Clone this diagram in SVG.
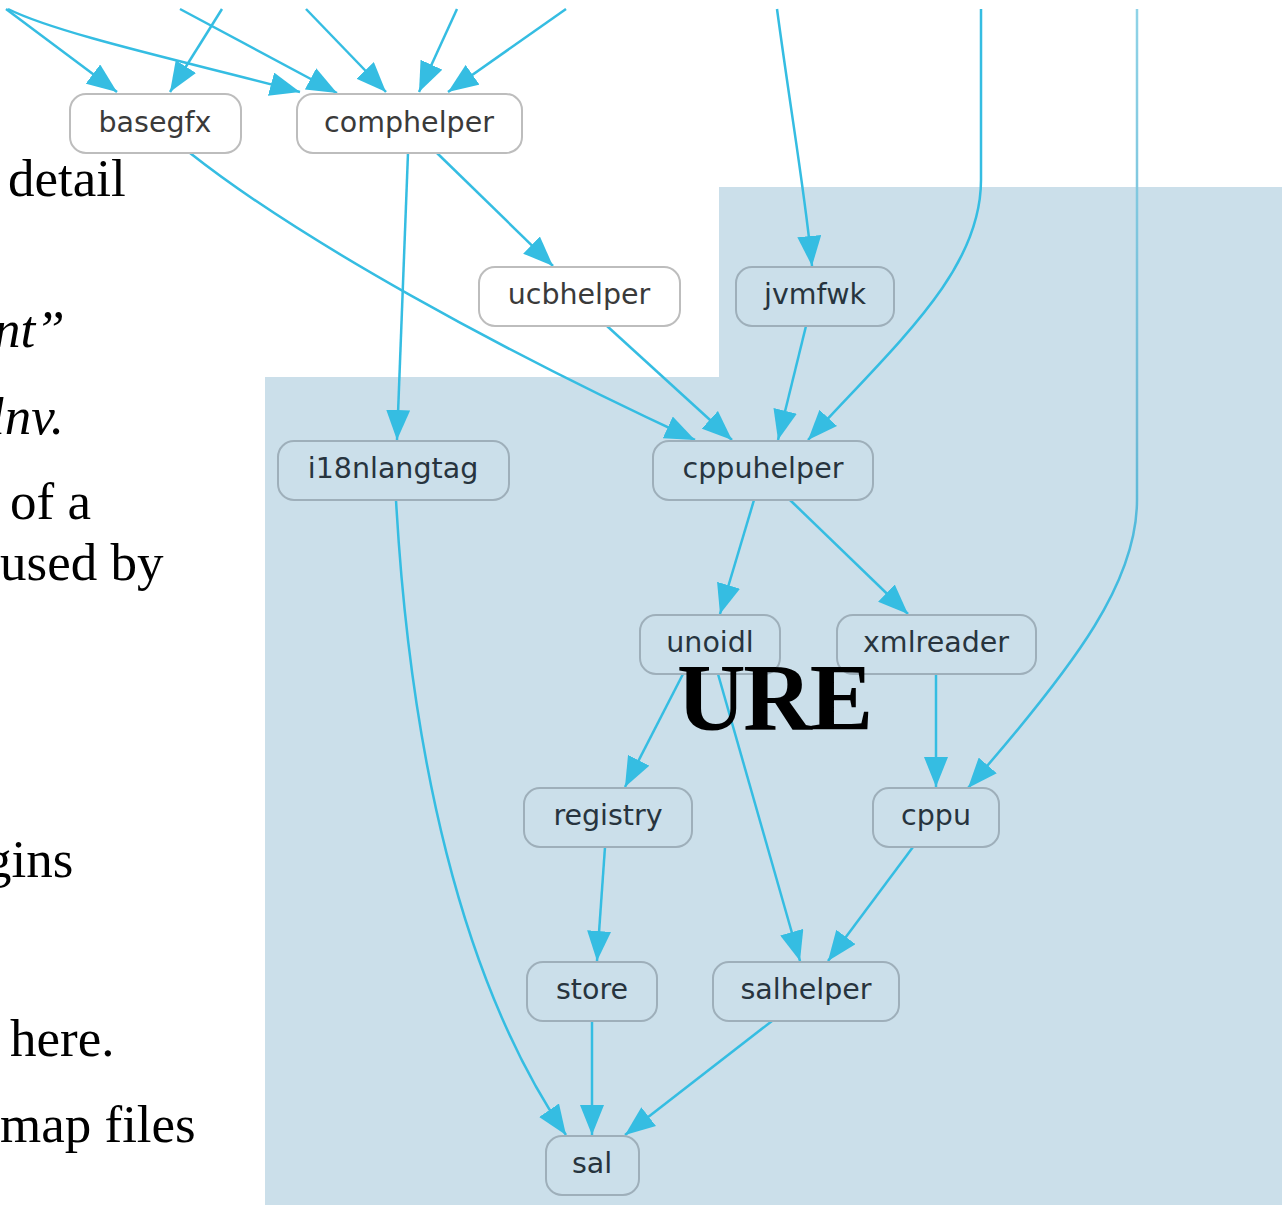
<svg xmlns="http://www.w3.org/2000/svg" width="1282" height="1205" viewBox="0 0 1282 1205">
  <defs>
    <marker id="arrow" markerUnits="userSpaceOnUse" markerWidth="30" markerHeight="24" refX="30" refY="12" orient="auto">
      <path d="M0,0 L30,12 L0,24 z" fill="#35bde2"/>
    </marker>
    <linearGradient id="fadeLine" gradientUnits="userSpaceOnUse" x1="0" y1="9" x2="0" y2="788">
      <stop offset="0" stop-color="#8fd3e7"/>
      <stop offset="0.55" stop-color="#6fbad6"/>
      <stop offset="0.75" stop-color="#3fbbe0"/>
      <stop offset="1" stop-color="#35bde2"/>
    </linearGradient>
    <style>
      .edge { fill: none; stroke: #35bde2; stroke-width: 2.5; marker-end: url(#arrow); }
      .box { stroke-width: 2; }
      .plain .box { fill: #ffffff; stroke: #bdbdbd; }
      .ure .box { fill: #cbdfea; stroke: #9eafba; }
      .label { font-family: "DejaVu Sans", Verdana, sans-serif; font-size: 28.5px; text-anchor: middle; }
      .plain .label { fill: #3a3a3a; }
      .ure .label { fill: #27343e; }
      .slide { font-family: "Liberation Serif", "Times New Roman", serif; font-size: 53px; fill: #000000; }
      .slide-it { font-style: italic; }
    </style>
  </defs>

  <rect x="0" y="0" width="1282" height="1205" fill="#ffffff"/>

  <!-- URE area -->
  <polygon points="265,377 719,377 719,187 1282,187 1282,1205 265,1205" fill="#cbdfea"/>

  <!-- slide body text, clipped at the left edge -->
  <g id="slide-text">
    <text class="slide" x="8" y="196">detail</text>
    <text class="slide slide-it" x="-6" y="347">nt”</text>
    <text class="slide slide-it" x="-10" y="434">lnv.</text>
    <text class="slide" x="10" y="519">of a</text>
    <text class="slide" x="0" y="580">used by</text>
    <text class="slide" x="-15" y="877">gins</text>
    <text class="slide" x="10" y="1056">here.</text>
    <text class="slide" x="0" y="1142">map files</text>
  </g>

  <!-- dependency edges -->
  <g id="connectors">
    <path class="edge" d="M6,9 L117,92"/>
    <path class="edge" d="M8,9 C60,35 200,65 300,92"/>
    <path class="edge" d="M222,9 L170,92"/>
    <path class="edge" d="M180,9 L337,93"/>
    <path class="edge" d="M306,9 L386,92"/>
    <path class="edge" d="M457,9 L419,92"/>
    <path class="edge" d="M566,9 L448,92"/>
    <path class="edge" d="M777,9 C792,120 806,200 812,266"/>
    <path class="edge" d="M981,9 L981,180 C981,270 900,340 808,440"/>
    <path class="edge" d="M1137,9 L1137,500 C1137,580 1080,660 968,788" style="stroke:url(#fadeLine)"/>
    <path class="edge" d="M190,153 C300,240 500,350 695,440"/>
    <path class="edge" d="M437,153 L553,266"/>
    <path class="edge" d="M408,153 L397,440"/>
    <path class="edge" d="M607,326 L732,440"/>
    <path class="edge" d="M806,326 L778,440"/>
    <path class="edge" d="M754,500 L720,614"/>
    <path class="edge" d="M790,500 L908,614"/>
    <path class="edge" d="M683,674 L625,787"/>
    <path class="edge" d="M718,674 L800,961"/>
    <path class="edge" d="M936,674 L936,787"/>
    <path class="edge" d="M605,847 L597,961"/>
    <path class="edge" d="M913,847 L828,961"/>
    <path class="edge" d="M592,1021 L592,1135"/>
    <path class="edge" d="M772,1021 L625,1135"/>
    <path class="edge" d="M396,500 C410,750 460,980 566,1135"/>
  </g>

  <!-- modules outside URE -->
  <g id="basegfx" class="plain">
    <rect class="box" x="70" y="94" width="171" height="59" rx="16"/>
    <text class="label" x="155" y="132">basegfx</text>
  </g>
  <g id="comphelper" class="plain">
    <rect class="box" x="297" y="94" width="225" height="59" rx="16"/>
    <text class="label" x="409" y="132">comphelper</text>
  </g>
  <g id="ucbhelper" class="plain">
    <rect class="box" x="479" y="267" width="201" height="59" rx="16"/>
    <text class="label" x="579" y="304">ucbhelper</text>
  </g>

  <!-- URE modules -->
  <g id="jvmfwk" class="ure">
    <rect class="box" x="736" y="267" width="158" height="59" rx="16"/>
    <text class="label" x="815" y="304">jvmfwk</text>
  </g>
  <g id="i18nlangtag" class="ure">
    <rect class="box" x="278" y="441" width="231" height="59" rx="16"/>
    <text class="label" x="393" y="478">i18nlangtag</text>
  </g>
  <g id="cppuhelper" class="ure">
    <rect class="box" x="653" y="441" width="220" height="59" rx="16"/>
    <text class="label" x="763" y="478">cppuhelper</text>
  </g>
  <g id="unoidl" class="ure">
    <rect class="box" x="640" y="615" width="140" height="59" rx="16"/>
    <text class="label" x="710" y="652">unoidl</text>
  </g>
  <g id="xmlreader" class="ure">
    <rect class="box" x="837" y="615" width="199" height="59" rx="16"/>
    <text class="label" x="936" y="652">xmlreader</text>
  </g>
  <g id="registry" class="ure">
    <rect class="box" x="524" y="788" width="168" height="59" rx="16"/>
    <text class="label" x="608" y="825">registry</text>
  </g>
  <g id="cppu" class="ure">
    <rect class="box" x="873" y="788" width="126" height="59" rx="16"/>
    <text class="label" x="936" y="825">cppu</text>
  </g>
  <g id="store" class="ure">
    <rect class="box" x="527" y="962" width="130" height="59" rx="16"/>
    <text class="label" x="592" y="999">store</text>
  </g>
  <g id="salhelper" class="ure">
    <rect class="box" x="713" y="962" width="186" height="59" rx="16"/>
    <text class="label" x="806" y="999">salhelper</text>
  </g>
  <g id="sal" class="ure">
    <rect class="box" x="546" y="1136" width="93" height="59" rx="16"/>
    <text class="label" x="592" y="1173">sal</text>
  </g>

  <!-- area title -->
  <text x="677" y="730" font-family="'Liberation Serif', 'Times New Roman', serif" font-weight="bold" font-size="95" textLength="196" fill="#000000">URE</text>
</svg>
